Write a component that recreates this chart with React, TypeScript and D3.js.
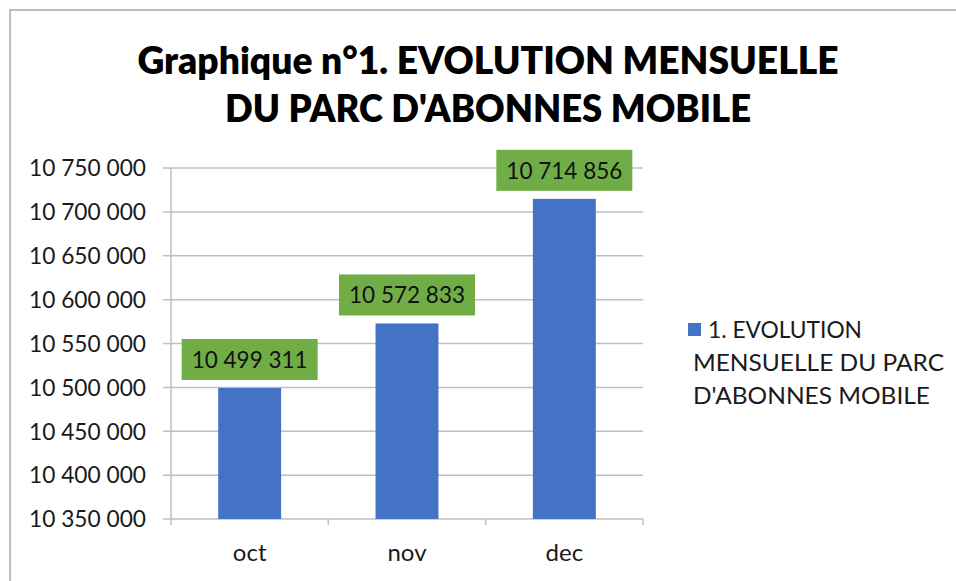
import React from "react";
import * as d3 from "d3";

const months = ["oct", "nov", "dec"];
const abonnes = [10499311, 10572833, 10714856];
const yTicks = [10350000, 10400000, 10450000, 10500000, 10550000, 10600000, 10650000, 10700000, 10750000];
const titleLines = ["Graphique n°1. EVOLUTION  MENSUELLE", "DU PARC D'ABONNES MOBILE"];
const legendLines = ["1. EVOLUTION", "MENSUELLE DU PARC", "D'ABONNES MOBILE"];

const W = 956;
const H = 581;
const plot = { left: 171, right: 643, top: 168, bottom: 519 };
const font = "Lato, 'Open Sans', sans-serif";

// french style grouping: 10 750 000
const fmt = (v: number) => d3.format(",")(v).replace(/,/g, " ");

export default function App() {
  const x = d3.scaleBand<string>()
    .domain(months)
    .range([plot.left, plot.right])
    .paddingInner(0.6)
    .paddingOuter(0.3);
  const y = d3.scaleLinear()
    .domain([yTicks[0], yTicks[yTicks.length - 1]])
    .range([plot.bottom, plot.top]);

  const step = x.step();
  const boundaries = [0, 1, 2, 3].map(i => plot.left + i * step);

  return (
    <svg width={W} height={H} style={{ position: "absolute", left: 0, top: 0, background: "#fff" }}>
      <rect x={10} y={10} width={W + 20} height={H + 20} fill="#fff" stroke="#a6a6a6" strokeWidth={1.5} />

      {titleLines.map((t, i) => (
        <text key={t} x={488} y={74 + i * 48} textAnchor="middle" fontFamily={font} fontWeight={800}
          fontSize={38} fill="#000" textLength={i === 0 ? 701 : 526} lengthAdjust="spacingAndGlyphs">
          {t}
        </text>
      ))}

      {/* gridlines + y ticks */}
      {yTicks.map(t => (
        <g key={t}>
          <line x1={163} x2={plot.right} y1={y(t)} y2={y(t)} stroke="#bfbfbf" strokeWidth={1.5} />
          <text x={146} y={y(t)} dy="0.36em" textAnchor="end" fontFamily={font} fontSize={23} fill="#1a1a1a"
            textLength={117} lengthAdjust="spacingAndGlyphs">
            {fmt(t)}
          </text>
        </g>
      ))}
      <line x1={plot.left} x2={plot.left} y1={plot.top} y2={plot.bottom + 6} stroke="#bfbfbf" strokeWidth={1.5} />
      {boundaries.slice(1).map((b, i) => (
        <line key={i} x1={b} x2={b} y1={plot.bottom} y2={plot.bottom + 6} stroke="#bfbfbf" strokeWidth={1.5} />
      ))}

      {/* bars */}
      {months.map((m, i) => (
        <rect key={m} x={x(m)} y={y(abonnes[i])} width={x.bandwidth()} height={plot.bottom - y(abonnes[i])}
          fill="#4472c4" />
      ))}

      {/* data labels */}
      {months.map((m, i) => {
        const cx = (x(m) as number) + x.bandwidth() / 2;
        const top = y(abonnes[i]);
        return (
          <g key={m}>
            <rect x={cx - 68} y={top - 49} width={136} height={41} fill="#70ad47" />
            <text x={cx} y={top - 28.5} dy="0.36em" textAnchor="middle" fontFamily={font} fontSize={23} fill="#111"
              textLength={116} lengthAdjust="spacingAndGlyphs">
              {fmt(abonnes[i])}
            </text>
          </g>
        );
      })}

      {/* x labels */}
      {months.map(m => (
        <text key={m} x={(x(m) as number) + x.bandwidth() / 2} y={561} textAnchor="middle" fontFamily={font}
          fontSize={24} fill="#1a1a1a">
          {m}
        </text>
      ))}

      {/* legend */}
      <rect x={688} y={323} width={13} height={13} fill="#4472c4" />
      {legendLines.map((l, i) => (
        <text key={l} x={i === 0 ? 708 : 693} y={338 + i * 33} fontFamily={font} fontSize={23} fill="#1a1a1a"
          textLength={[154, 251, 237][i]} lengthAdjust="spacingAndGlyphs">
          {l}
        </text>
      ))}
    </svg>
  );
}
